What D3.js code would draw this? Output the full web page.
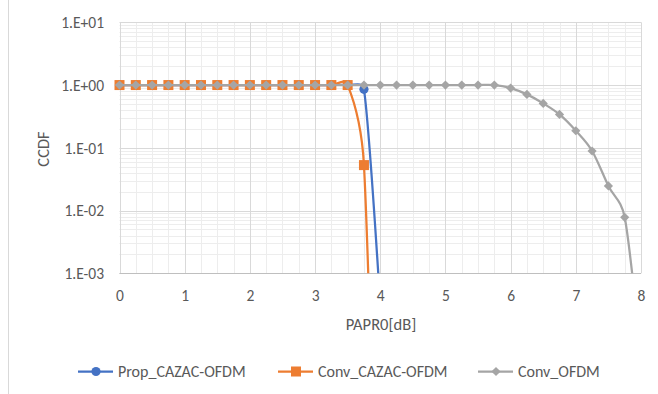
<!DOCTYPE html>
<html><head><meta charset="utf-8">
<script src="https://cdn.jsdelivr.net/npm/d3@7"></script>
<style>
body{margin:0;background:#fff}
svg{display:block}
text{font-family:Carlito,'Liberation Sans',Arial,sans-serif;fill:#595959}
</style></head>
<body><svg id="c" width="658" height="394"></svg>
<script>
// ---- data ----
const xTicks = [0, 1, 2, 3, 4, 5, 6, 7, 8];
const yTicks = [10, 1, 0.1, 0.01, 0.001];
const yTickLabels = ["1.E+01", "1.E+00", "1.E-01", "1.E-02", "1.E-03"];
const seriesNames = ["Prop_CAZAC-OFDM", "Conv_CAZAC-OFDM", "Conv_OFDM"];
const paprCazac = [0, 0.25, 0.5, 0.75, 1, 1.25, 1.5, 1.75, 2, 2.25, 2.5, 2.75, 3, 3.25, 3.5, 3.75, 4];
const propCazac = [1, 1, 1, 1, 1, 1, 1, 1, 1, 1, 1, 1, 1, 1, 1, 0.855, 0.00035];
const convCazac = [1, 1, 1, 1, 1, 1, 1, 1, 1, 1, 1, 1, 1, 1, 1, 0.053, 3e-10];
const paprOfdm = [0, 0.25, 0.5, 0.75, 1, 1.25, 1.5, 1.75, 2, 2.25, 2.5, 2.75, 3, 3.25, 3.5, 3.75, 4,
                  4.25, 4.5, 4.75, 5, 5.25, 5.5, 5.75, 6, 6.25, 6.5, 6.75, 7, 7.25, 7.5, 7.75, 8];
const convOfdm = [1, 1, 1, 1, 1, 1, 1, 1, 1, 1, 1, 1, 1, 1, 1, 1, 1,
                  1, 1, 1, 1, 1, 1, 1, 0.895, 0.71, 0.51, 0.34, 0.187, 0.089, 0.0247, 0.0078, 0.00005];

// ---- layout ----
const svg = d3.select("#c");
const FONT = "Carlito,'Liberation Sans',Arial,sans-serif";
const L = 119.5, R = 641, T = 22.3, B = 273.3;
const x = d3.scaleLinear().domain([0, 8]).range([L, R]);
const y = d3.scaleLog().domain([0.001, 10]).range([B, T]);

// chart border (left edge visible)
svg.append("line").attr("x1", 8.5).attr("x2", 8.5).attr("y1", 0).attr("y2", 394)
  .attr("stroke", "#D9D9D9").attr("stroke-width", 1);

// minor grid
const g = svg.append("g");
const minorX = d3.range(0, 8.001, 0.25).filter(v => Math.abs(v - Math.round(v)) > 1e-6);
g.selectAll(".mx").data(minorX).join("line")
  .attr("x1", d => Math.round(x(d)) + 0.5).attr("x2", d => Math.round(x(d)) + 0.5)
  .attr("y1", T).attr("y2", B).attr("stroke", "#EDEDED");
const minorY = [];
[0.001, 0.01, 0.1, 1].forEach(dec => { for (let k = 2; k <= 9; k++) minorY.push(dec * k); });
g.selectAll(".my").data(minorY).join("line")
  .attr("x1", L).attr("x2", R)
  .attr("y1", d => Math.round(y(d)) + 0.5).attr("y2", d => Math.round(y(d)) + 0.5)
  .attr("stroke", "#EDEDED");
// major grid
g.selectAll(".Mx").data(xTicks).join("line")
  .attr("x1", d => Math.round(x(d)) + 0.5).attr("x2", d => Math.round(x(d)) + 0.5)
  .attr("y1", T).attr("y2", B).attr("stroke", "#D9D9D9");
g.selectAll(".My").data(yTicks).join("line")
  .attr("x1", L).attr("x2", R)
  .attr("y1", d => Math.round(y(d)) + 0.5).attr("y2", d => Math.round(y(d)) + 0.5)
  .attr("stroke", "#D9D9D9");
// bottom axis line
svg.append("line").attr("x1", L).attr("x2", R)
  .attr("y1", Math.round(B) + 0.5).attr("y2", Math.round(B) + 0.5).attr("stroke", "#BFBFBF");

// axes labels via d3 axes
const xAxis = d3.axisBottom(x).tickValues(xTicks).tickSize(0).tickPadding(0).tickFormat(d3.format("d"));
const xa = svg.append("g").attr("transform", `translate(0,${B + 22})`).call(xAxis);
xa.select(".domain").remove();
xa.selectAll("text").attr("font-size", 15.5).attr("fill", "#595959").attr("dy", "0.35em")
  .style("font-family", FONT);

const yAxis = d3.axisLeft(y).tickValues(yTicks).tickSize(0).tickPadding(0)
  .tickFormat((d, i) => yTickLabels[i]);
const ya = svg.append("g").attr("transform", `translate(${104},0)`).call(yAxis);
ya.select(".domain").remove();
ya.selectAll("text").attr("font-size", 15.5).attr("fill", "#595959").attr("dy", "0.35em")
  .style("font-family", FONT);

svg.append("text").attr("x", 381).attr("y", 324).attr("dy", "0.35em")
  .attr("text-anchor", "middle").attr("font-size", 16.5).text("PAPR0[dB]");
svg.append("text").attr("transform", "translate(43,149) rotate(-90)").attr("dy", "0.35em")
  .attr("text-anchor", "middle").attr("font-size", 16.5).text("CCDF");

// clip
svg.append("clipPath").attr("id", "clip").append("rect")
  .attr("x", L).attr("y", T - 1).attr("width", R - L).attr("height", B - T + 1);

// Excel-style smoothed line (Bezier, tension 1/6 with control distance capped at half segment)
function excelSmooth(p) {
  const path = d3.path();
  const n = p.length;
  if (!n) return "";
  path.moveTo(p[0][0], p[0][1]);
  const dist = (a, b) => Math.hypot(b[0] - a[0], b[1] - a[1]);
  for (let i = 0; i < n - 1; i++) {
    const p0 = p[Math.max(i - 1, 0)], p1 = p[i], p2 = p[i + 1], p3 = p[Math.min(i + 2, n - 1)];
    const d12 = dist(p1, p2), d02 = dist(p0, p2), d13 = dist(p1, p3);
    const f = 1 / 6;
    const f1 = (d02 / 6 >= d12 / 2 && d02 > 0) ? d12 / d02 / 2 : f;
    const f2 = (d13 / 6 >= d12 / 2 && d13 > 0) ? d12 / d13 / 2 : f;
    const c1 = [p1[0] + f1 * (p2[0] - p0[0]), p1[1] + f1 * (p2[1] - p0[1])];
    const c2 = [p2[0] - f2 * (p3[0] - p1[0]), p2[1] - f2 * (p3[1] - p1[1])];
    path.bezierCurveTo(c1[0], c1[1], c2[0], c2[1], p2[0], p2[1]);
  }
  return path.toString();
}

const series = [
  {name: seriesNames[0], xs: paprCazac, ys: propCazac, color: "#4472C4", marker: "circle"},
  {name: seriesNames[1], xs: paprCazac, ys: convCazac, color: "#ED7D31", marker: "square"},
  {name: seriesNames[2], xs: paprOfdm, ys: convOfdm, color: "#A5A5A5", marker: "diamond"}
];

function drawMarker(sel, type, color) {
  if (type === "circle") sel.append("circle").attr("r", 4.6).attr("fill", color);
  else if (type === "square") sel.append("rect").attr("x", -5).attr("y", -5).attr("width", 10).attr("height", 10).attr("fill", color);
  else sel.append("path").attr("d", "M0,-4.6L4.6,0L0,4.6L-4.6,0Z").attr("fill", color);
}

const plot = svg.append("g");
series.forEach(s => {
  const pts = s.xs.map((v, i) => [x(v), y(s.ys[i])]);
  const sg = plot.append("g");
  sg.append("path").attr("d", excelSmooth(pts)).attr("fill", "none")
    .attr("stroke", s.color).attr("stroke-width", 2.25).attr("clip-path", "url(#clip)");
  s.xs.forEach((v, i) => {
    const val = s.ys[i];
    if (val < 0.001 || val > 10) return;
    const m = sg.append("g").attr("transform", `translate(${x(v)},${y(val)})`);
    drawMarker(m, s.marker, s.color);
  });
});

// legend
const legX = [78, 278, 478];
series.forEach((s, i) => {
  const lg = svg.append("g").attr("transform", `translate(${legX[i]},371.5)`);
  lg.append("line").attr("x1", 0).attr("x2", 35).attr("stroke", s.color).attr("stroke-width", 2.25);
  const m = lg.append("g").attr("transform", "translate(18,0)");
  drawMarker(m, s.marker, s.color);
  lg.append("text").attr("x", 40).attr("dy", "0.35em").attr("font-size", 16).text(s.name);
});
</script></body></html>
